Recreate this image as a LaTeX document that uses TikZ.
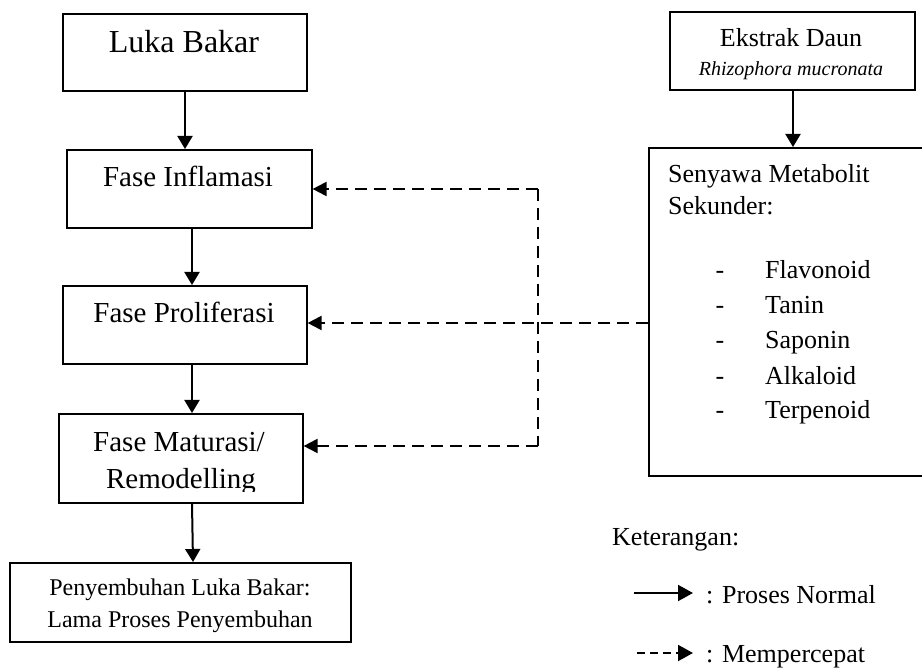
\documentclass[tikz,border=0pt]{standalone}
\usepackage{fontspec}
\setmainfont{Liberation Serif}
\usetikzlibrary{arrows.meta}
\tikzset{
  box/.style={draw, line width=1.6pt, inner sep=0pt, anchor=north west},
  txt/.style={inner sep=0pt, anchor=base},
  flow/.style={line width=2pt, -{Triangle[length=13pt,width=15pt]}},
  dflow/.style={line width=2pt, dash pattern=on 12pt off 7pt, -{Triangle[length=14pt,width=14pt]}},
  dline/.style={line width=2pt, dash pattern=on 12pt off 7pt},
}
\newcommand{\fs}[1]{\fontsize{#1}{#1}\selectfont}
\begin{document}
\begin{tikzpicture}[x=1pt,y=-1pt]
\useasboundingbox (0,0) rectangle (922,668);
% boxes
\node[box, minimum width=244pt, minimum height=77pt] (luka) at (62,13) {};
\node[box, minimum width=245pt, minimum height=78pt] (infl) at (66,149) {};
\node[box, minimum width=244pt, minimum height=78pt] (prol) at (62,285) {};
\node[box, minimum width=244pt, minimum height=89pt] (matu) at (58,413) {};
\node[box, minimum width=341pt, minimum height=79pt] (peny) at (9,562) {};
\node[box, minimum width=245pt, minimum height=78pt] (ekst) at (669,11) {};
\node[box, minimum width=300pt, minimum height=328pt] (seny) at (648,147) {};
% texts
\node[txt] (t1) at (184,53) {\fs{32}Luka Bakar};
\node[txt] (t2) at (188,187) {\fs{29}Fase Inflamasi};
\node[txt] (t3) at (184,323) {\fs{29}Fase Proliferasi};
\node[txt] (t4) at (179,452) {\fs{29}Fase Maturasi/};
\begin{scope}
\clip (58,413) rectangle (302,491.5);
\node[txt] (t5) at (181,489) {\fs{29}Remodelling};
\end{scope}
\node[txt] (t6) at (180,595) {\fs{24}Penyembuhan Luka Bakar:};
\node[txt] (t7) at (180,627) {\fs{24}Lama Proses Penyembuhan};
\node[txt] (t8) at (791,47) {\fs{26}Ekstrak Daun};
\node[txt] (t9) at (791,76) {\fs{20}\itshape Rhizophora mucronata};
\node[txt, anchor=base west] (t10) at (668,183) {\fs{26}Senyawa Metabolit};
\node[txt, anchor=base west] (t11) at (668,215) {\fs{26}Sekunder:};
\foreach \y/\w [count=\i] in {279/Flavonoid,314/Tanin,349/Saponin,385/Alkaloid,419/Terpenoid}{
  \node[txt] (d\i) at (720,\y) {\fs{26}-};
  \node[txt, anchor=base west] (l\i) at (765,\y) {\fs{26}\w};
}
% solid arrows
\draw[flow] (luka.south -| 185,0) -- (infl.north -| 185,0);
\draw[flow] (infl.south -| 192,0) -- (prol.north -| 192,0);
\draw[flow] (prol.south -| 192,0) -- (matu.north -| 192,0);
\draw[flow] (matu.south -| 192,0) -- (peny.north -| 193,0);
\draw[flow] (ekst.south -| 793,0) -- (seny.north -| 793,0);
% dashed arrows
\coordinate (jt) at (538,189);
\coordinate (jb) at (538,446);
\draw[dflow] (seny.west |- 0,323) -- (prol.east |- 0,323);
\draw[dline] (jt) -- (jb);
\draw[dflow] (jt) -- (infl.east |- jt);
\draw[dflow] (jb) -- (matu.east |- jb);
% legend
\node[txt, anchor=base west] (k) at (612,545) {\fs{26}Keterangan:};
\coordinate (la1) at (634,593);
\coordinate (la2) at (693,593);
\draw[line width=2pt, -{Triangle[length=15pt,width=16pt]}] (la1) -- (la2);
\node[txt, anchor=base west] (k1) at (706,603) {\fs{26}: Proses Normal};
\coordinate (lb1) at (637,653);
\coordinate (lb2) at (693,653);
\draw[line width=2pt, dash pattern=on 8pt off 5pt, -{Triangle[length=15pt,width=16pt]}] (lb1) -- (lb2);
\node[txt, anchor=base west] (k2) at (706,662) {\fs{26}: Mempercepat};
\end{tikzpicture}
\end{document}
